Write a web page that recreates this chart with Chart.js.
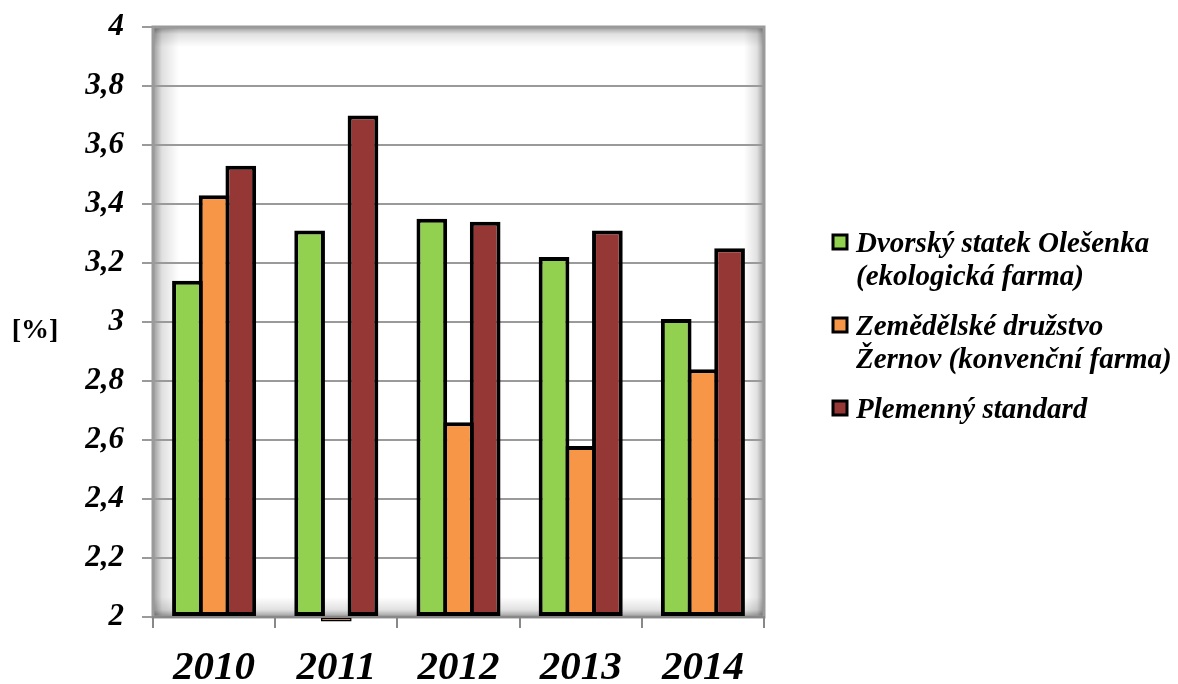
<!DOCTYPE html>
<html>
<head>
<meta charset="utf-8">
<script src="https://cdn.jsdelivr.net/npm/chart.js@4/dist/chart.umd.min.js"></script>
<style>
  body { margin: 0; background: #fff; }
  #wrap { width: 1178px; height: 684px; }
</style>
</head>
<body>
<div id="wrap"><canvas id="chart" width="1178" height="684"></canvas></div>
<script>
const years = ['2010', '2011', '2012', '2013', '2014'];
const olesenka = [3.14, 3.31, 3.35, 3.22, 3.01];
const zernov = [3.43, 1.985, 2.66, 2.58, 2.84];
const standard = [3.53, 3.70, 3.34, 3.31, 3.25];
const seriesNames = [
    ['Dvorský statek Olešenka', '(ekologická farma)'],
    ['Zemědělské družstvo', 'Žernov (konvenční farma)'],
    ['Plemenný standard']
];
const seriesColors = ['#92D050', '#F79646', '#953735'];
const yTitle = '[%]';

const serif = "'Liberation Serif', 'Times New Roman', serif";

// gray inner shadow round the plot area, like the office chart frame
const frameShadow = {
    id: 'frameShadow',
    beforeDraw(chart) {
        const {ctx, chartArea: a} = chart;
        ctx.save();
        ctx.fillStyle = '#fff';
        ctx.fillRect(a.left, a.top, a.right - a.left, a.bottom - a.top);
        const sides = [
            [a.left, 0, a.left + 26, 0, a.left, a.top, 26, a.bottom - a.top],
            [a.right, 0, a.right - 20, 0, a.right - 20, a.top, 20, a.bottom - a.top],
            [0, a.top, 0, a.top + 20, a.left, a.top, a.right - a.left, 20],
            [0, a.bottom, 0, a.bottom - 20, a.left, a.bottom - 20, a.right - a.left, 20]
        ];
        sides.forEach(s => {
            const g = ctx.createLinearGradient(s[0], s[1], s[2], s[3]);
            g.addColorStop(0, 'rgba(0,0,0,0.40)');
            g.addColorStop(0.35, 'rgba(0,0,0,0.12)');
            g.addColorStop(1, 'rgba(0,0,0,0)');
            ctx.fillStyle = g;
            ctx.fillRect(s[4], s[5], s[6], s[7]);
        });
        ctx.strokeStyle = '#9a9a9a';
        ctx.lineWidth = 3;
        ctx.strokeRect(a.left, a.top, a.right - a.left, a.bottom - a.top);
        ctx.restore();
    },
    afterDraw(chart) {
        const ctx = chart.ctx;
        ctx.save();
        ctx.fillStyle = '#000';
        // y title, horizontal
        ctx.font = 'bold 28px ' + serif;
        ctx.textAlign = 'center';
        ctx.textBaseline = 'middle';
        ctx.fillText(yTitle, 35, 331);
        // legend
        ctx.font = 'italic bold 29px ' + serif;
        ctx.textAlign = 'left';
        ctx.textBaseline = 'alphabetic';
        let y = 252;
        seriesNames.forEach((lines, i) => {
            ctx.fillStyle = seriesColors[i];
            ctx.fillRect(833, y - 17, 14, 14);
            ctx.strokeStyle = '#000';
            ctx.lineWidth = 3;
            ctx.strokeRect(833, y - 17, 14, 14);
            ctx.fillStyle = '#000';
            lines.forEach((t, j) => ctx.fillText(t, 856, y + j * 33));
            y += lines.length * 33 + 17;
        });
        ctx.restore();
    }
};

const datasets = [olesenka, zernov, standard].map((d, i) => ({
    label: seriesNames[i].join(' '),
    data: d,
    backgroundColor: seriesColors[i],
    borderColor: '#000',
    // thin outline for the tiny bar under the axis, else it is all border
    borderWidth: c => Math.abs(c.raw - 2) < 0.05 ? 1.5 : 4,
    borderSkipped: false,
    base: 2,
    clip: false,
    categoryPercentage: 0.655,
    barPercentage: 1.15
}));

new Chart(document.getElementById('chart'), {
    type: 'bar',
    data: { labels: years, datasets: datasets },
    plugins: [frameShadow],
    options: {
        responsive: false,
        animation: false,
        layout: { padding: { top: 27, right: 414, left: 0, bottom: 0 } },
        plugins: {
            legend: { display: false },
            tooltip: { enabled: false }
        },
        scales: {
            x: {
                afterFit: s => { s.height = 67; s.paddingLeft = 0; s.paddingRight = 0; },
                grid: { offset: true, drawOnChartArea: false, drawTicks: true, tickLength: 11, color: '#888', lineWidth: 2 },
                border: { display: true, color: '#888', width: 2 },
                ticks: {
                    color: '#000',
                    padding: 16,
                    font: { family: serif, size: 41, style: 'italic', weight: 'bold' }
                }
            },
            y: {
                min: 2,
                max: 4,
                afterFit: s => { s.width = 153; s.paddingTop = 0; s.paddingBottom = 0; },
                grid: { color: '#9a9a9a', lineWidth: 2, tickLength: 11 },
                border: { display: false },
                ticks: {
                    stepSize: 0.2,
                    color: '#000',
                    padding: 18,
                    font: { family: serif, size: 31, style: 'italic', weight: 'bold' },
                    callback: v => String(Math.round(v * 10) / 10).replace('.', ',')
                }
            }
        }
    }
});
</script>
</body>
</html>
